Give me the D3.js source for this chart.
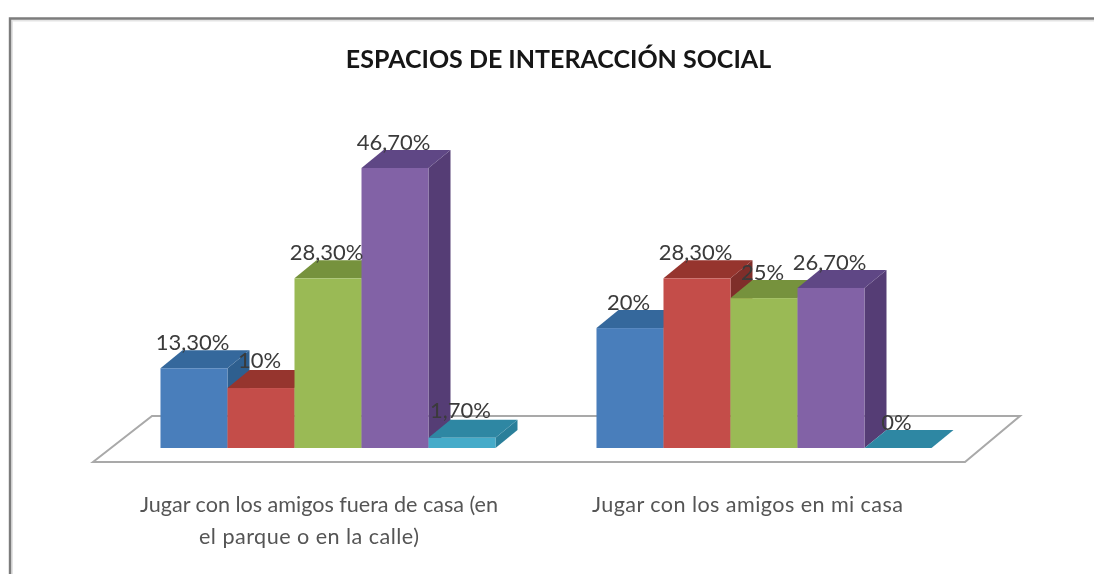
<!DOCTYPE html>
<html>
<head>
<meta charset="utf-8">
<script src="https://cdn.jsdelivr.net/npm/d3@7/dist/d3.min.js"></script>
<style>
html,body{margin:0;padding:0;background:#fff;overflow:hidden}
svg{display:block}
text{font-family:Lato,"Open Sans",sans-serif}
</style>
</head>
<body>
<svg id="chart" width="1094" height="574"></svg>
<script>
const chartTitle = "ESPACIOS DE INTERACCIÓN SOCIAL";
const categories = ["Jugar con los amigos fuera de casa (en|el parque o en la calle)", "Jugar con los amigos en mi casa"];
const seriesNames = ["s1", "s2", "s3", "s4", "s5"];
const serie1 = [13.3, 20];
const serie2 = [10, 28.3];
const serie3 = [28.3, 25];
const serie4 = [46.7, 26.7];
const serie5 = [1.7, 0];
const seriesValues = [serie1, serie2, serie3, serie4, serie5];
const frontColors = ["#4a7ebb", "#c44d48", "#9aba55", "#8262a6", "#45abc9"];
const topColors = ["#35689c", "#96342f", "#76923c", "#5f4685", "#2f87a3"];
const sideColors = ["#2f5f8f", "#7f2f2b", "#62792f", "#553e75", "#2c7f9a"];

const W = 1094, H = 574;
const depthX = 22, depthY = 18;
// Each category line: horizontal shift from the band centre, and its width
const lineLayout = [[[-9, 358], [-19, 220]], [[-16.5, 311]]];

const svg = d3.select("#chart");
const defs = svg.append("defs");
defs.append("filter").attr("id", "soft").attr("x", "-2%").attr("y", "-2%").attr("width", "104%").attr("height", "104%")
  .append("feGaussianBlur").attr("stdDeviation", 0.7);

const root = svg.append("g").attr("filter", "url(#soft)");
root.append("rect").attr("width", W).attr("height", H).attr("fill", "#fff");

// Frame: a soft shadow inside a dark line, top and left only
root.append("path").attr("d", `M12,${H} V20.5 H${W}`).attr("fill", "none").attr("stroke", "#e4e4e4").attr("stroke-width", 2);
root.append("path").attr("d", `M10,${H} V18.5 H${W}`).attr("fill", "none").attr("stroke", "#7c7c7c").attr("stroke-width", 2.4);

const x0 = d3.scaleBand().domain(categories).range([110, 982]).paddingInner(0.2316).paddingOuter(0.1158);
const x1 = d3.scaleBand().domain(seriesNames).range([0, x0.bandwidth()]);
const y = d3.scaleLinear().domain([0, 46.7]).range([448, 168]);

// Floor
const fl = x0.range()[0], fr = x0.range()[1];
const floorFrontY = y(0) + 14, floorBackY = y(0) - 32;
root.append("path")
  .attr("d", `M${fl - 17},${floorFrontY} L${fl + 42},${floorBackY} H${fr + 38} L${fr - 17},${floorFrontY} Z`)
  .attr("fill", "#fff").attr("stroke", "#a9a9a9").attr("stroke-width", 2);

const fmt = v => Number.isInteger(v) ? `${v}%` : `${v.toFixed(2).replace(".", ",")}%`;
const marks = [];
categories.forEach((c, ci) => seriesNames.forEach((s, si) => marks.push({c, ci, s, si, v: seriesValues[si][ci]})));

const bars = root.append("g").selectAll("g").data(marks).join("g");
const bx = d => x0(d.c) + x1(d.s);
const bw = x1.bandwidth();
bars.append("path").attr("fill", d => sideColors[d.si]).attr("d", d => {
  const x = bx(d) + bw, t = y(d.v), b = y(0);
  return `M${x},${t} l${depthX},${-depthY} V${b - depthY} L${x},${b} Z`;
});
bars.append("path").attr("fill", d => topColors[d.si]).attr("d", d => {
  const x = bx(d), t = y(d.v);
  return `M${x},${t} l${depthX},${-depthY} h${bw} l${-depthX},${depthY} Z`;
});
bars.append("rect").attr("fill", d => frontColors[d.si])
  .attr("x", bx).attr("y", d => y(d.v)).attr("width", bw).attr("height", d => y(0) - y(d.v));

// Data labels
root.append("g").selectAll("text").data(marks).join("text")
  .attr("x", d => bx(d) + bw / 2 - 1.5)
  .attr("y", d => y(d.v) - (d.v > 0 && d.v <= 10 ? 20 : 18))
  .attr("text-anchor", "middle").attr("font-size", 22).attr("fill", "#3a3a3a")
  .text(d => fmt(d.v));

// Title
root.append("text").attr("x", 558.5).attr("y", 68).attr("text-anchor", "middle")
  .attr("font-size", 25).attr("font-weight", 700).attr("fill", "#151515").text(chartTitle);

// Category labels
categories.forEach((c, i) => {
  c.split("|").forEach((line, j) => root.append("text")
    .attr("text-anchor", "middle").attr("font-size", 21.6).attr("fill", "#555")
    .attr("x", x0(c) + x0.bandwidth() / 2 + lineLayout[i][j][0])
    .attr("y", 512 + j * 32)
    .attr("textLength", lineLayout[i][j][1]).attr("lengthAdjust", "spacing")
    .text(line));
});
</script>
</body>
</html>
